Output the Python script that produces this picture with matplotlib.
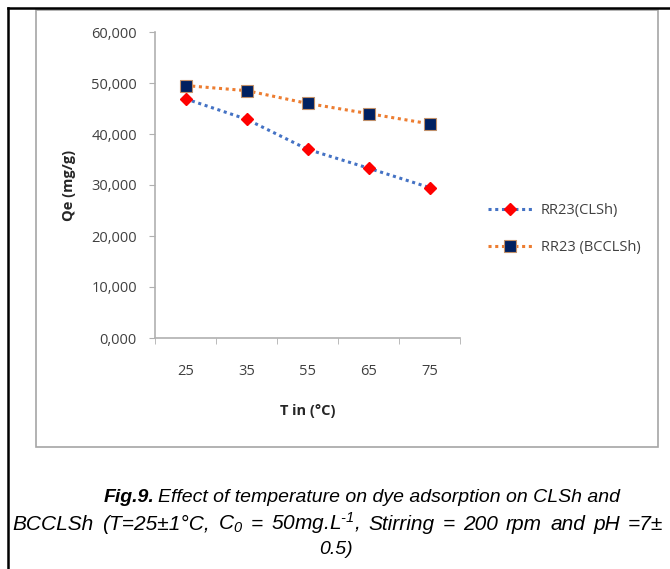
import matplotlib
matplotlib.use("Agg")
import matplotlib.pyplot as plt
from matplotlib.lines import Line2D
from matplotlib.patches import Rectangle
from matplotlib.ticker import FixedLocator, FuncFormatter
from matplotlib.offsetbox import TextArea, HPacker, AnnotationBbox

temps = ["25", "35", "55", "65", "75"]
qe_clsh = [46.9, 42.9, 37.0, 33.3, 29.5]
qe_bcclsh = [49.5, 48.5, 46.0, 44.0, 42.0]
y_ticks = [0, 10, 20, 30, 40, 50, 60]

W, H = 670, 569
fig = plt.figure(figsize=(W / 100, H / 100), dpi=100)

# page borders (black) and chart frame (gray)
fig.add_artist(Line2D([8 / W, 1], [1 - 8 / H, 1 - 8 / H], color="black", lw=1.8))
fig.add_artist(Line2D([8 / W, 8 / W], [0, 1 - 8 / H], color="black", lw=1.8))
fig.add_artist(Rectangle((36 / W, 1 - 447 / H), (658 - 36) / W, (447 - 10) / H,
                         fill=False, ec="#a6a6a6", lw=1.2))

ax = fig.add_axes([155 / W, 1 - 338 / H, 305 / W, 306 / H])
x = list(range(len(temps)))
ax.plot(x, qe_clsh, ls=(0, (1, 1.2)), lw=2.2, color="#4472C4",
        marker="D", ms=6, mfc="#FF0000", mec="#FF0000", label="RR23(CLSh)")
ax.plot(x, qe_bcclsh, ls=(0, (1, 1.2)), lw=2.2, color="#ED7D31",
        marker="s", ms=8, mfc="#002060", mec="#C0906A", mew=0.8, label="RR23 (BCCLSh)")

ax.set_xlim(-0.5, len(temps) - 0.5)
ax.set_ylim(0, 60)
ax.set_yticks(y_ticks)
ax.yaxis.set_major_formatter(FuncFormatter(lambda v, p: f"{v:.3f}".replace(".", ",")))
ax.set_xticks(x)
ax.set_xticklabels(temps)
ax.xaxis.set_minor_locator(FixedLocator([i - 0.5 for i in range(len(temps) + 1)]))

for s in ["top", "right"]:
    ax.spines[s].set_visible(False)
for s in ["left", "bottom"]:
    ax.spines[s].set_color("#b0b0b0")
    ax.spines[s].set_linewidth(1.2)

ax.tick_params(axis="y", length=4, color="#b0b0b0", pad=9, labelsize=10.5,
               labelcolor="#404040")
ax.tick_params(axis="x", which="major", length=0, pad=18.5, labelsize=10.5,
               labelcolor="#404040")
ax.tick_params(axis="x", which="minor", length=4, color="#b0b0b0")
for t in ax.get_xticklabels() + ax.get_yticklabels():
    t.set_fontfamily("Open Sans")

ax.set_xlabel("T in (°C)", fontfamily="Open Sans", fontweight="bold",
              fontsize=10.5, color="#262626", labelpad=18)
ax.set_ylabel("Qe (mg/g)", fontfamily="Open Sans", fontweight="bold",
              fontsize=10.5, color="#262626", labelpad=11)

leg = ax.legend(loc="center left", bbox_to_anchor=(1.05, 0.355), frameon=False,
                prop={"family": "Open Sans", "size": 10.5}, handlelength=3.0,
                labelspacing=1.5, handletextpad=0.6)
for t in leg.get_texts():
    t.set_color("#404040")

# caption (justified second line, like the source document)
plt.rcParams["mathtext.fontset"] = "custom"
plt.rcParams["mathtext.rm"] = "Liberation Sans:italic"
plt.rcParams["mathtext.it"] = "Liberation Sans:italic"

cap = dict(fontsize=14, family="Liberation Sans", style="italic", color="black")
cap_bold = dict(cap, weight="bold")
cap2 = dict(cap, fontsize=15)


def place(box, xpx, ypx):
    ab = AnnotationBbox(box, (xpx / W, 1 - ypx / H), xycoords="figure fraction",
                        box_alignment=(0.5, 0.5), frameon=False, pad=0)
    fig.add_artist(ab)


line1 = HPacker(children=[TextArea("Fig.9.", textprops=cap_bold),
                          TextArea("Effect of temperature on dye adsorption on CLSh and",
                                   textprops=cap)],
                sep=3, pad=0, align="baseline")
place(line1, 362, 497)

words2 = ["BCCLSh", "(T=25±1°C,", "C$_0$", "=", "50mg.L$^{\\text{-}1}$,", "Stirring",
          "=", "200", "rpm", "and", "pH", "=7±"]
# HPacker width is in pixels here
line2 = HPacker(children=[TextArea(w, textprops=cap2) for w in words2],
                mode="expand", width=651, pad=0, sep=3, align="baseline")
place(line2, 338, 523)

place(TextArea("0.5)", textprops=cap), 336, 549)

fig.savefig("out.png", dpi=100)
